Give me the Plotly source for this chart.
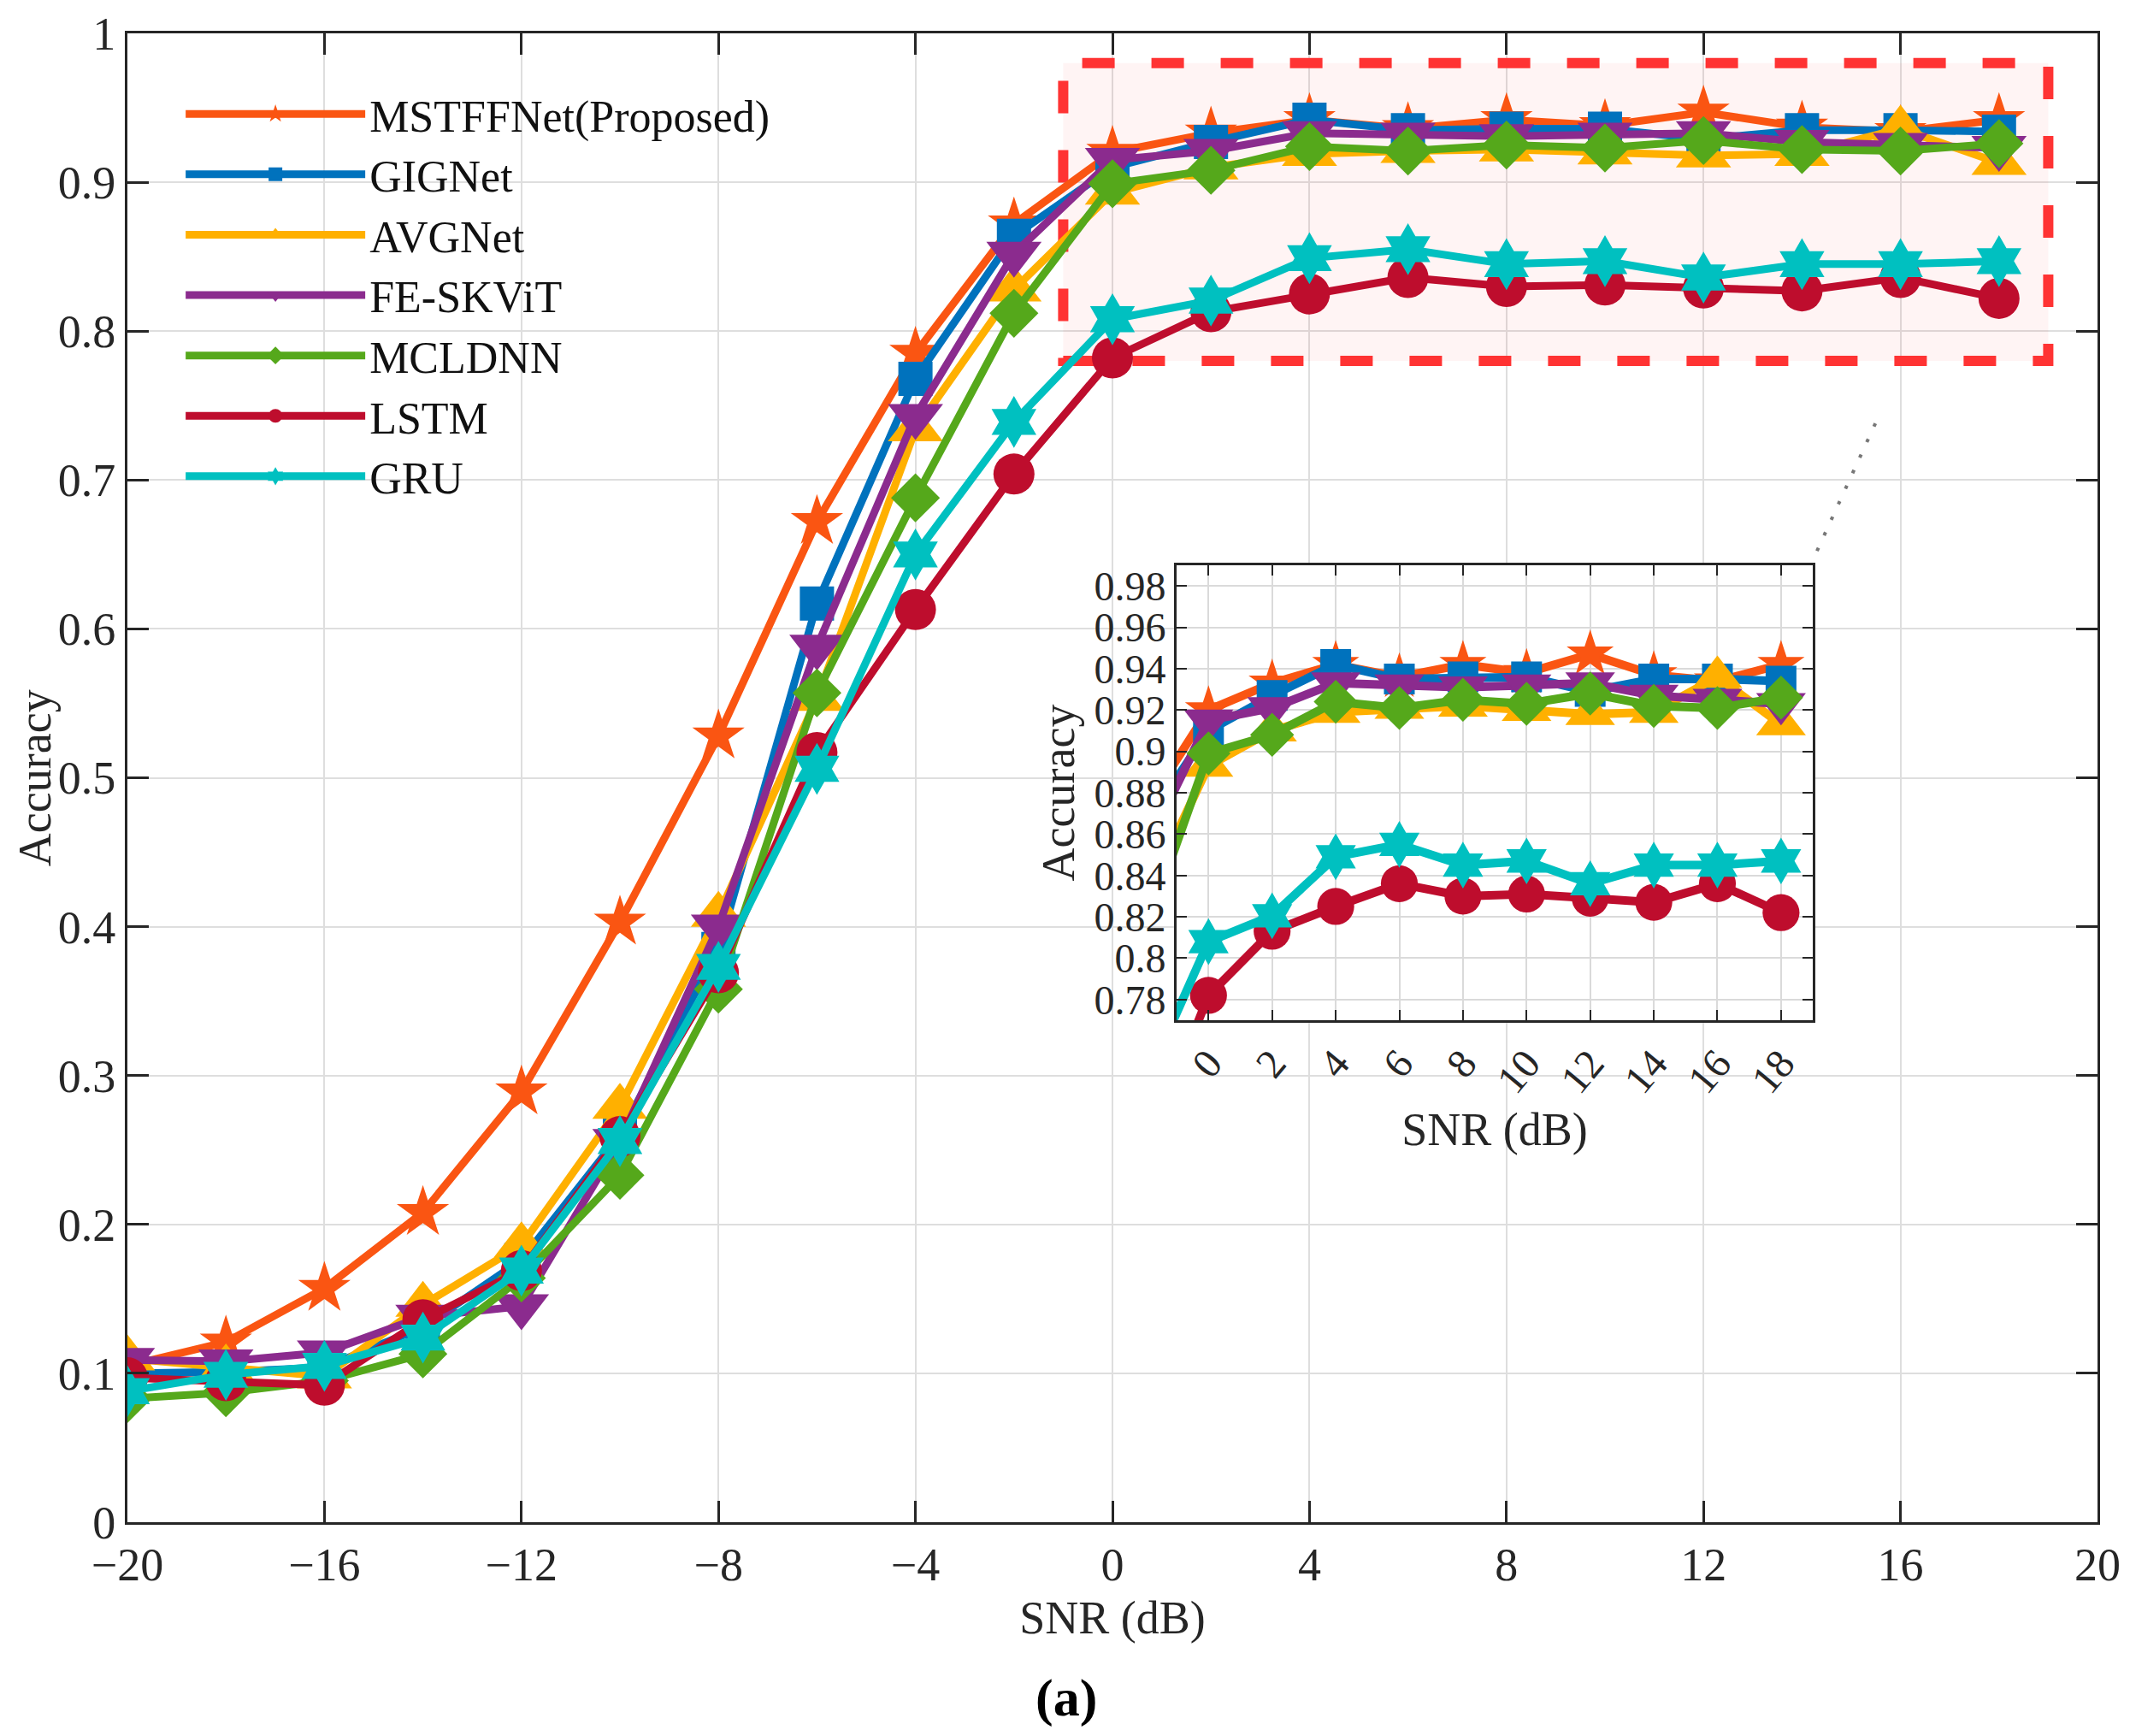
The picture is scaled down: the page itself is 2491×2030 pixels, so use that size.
import plotly.graph_objects as go

# SNR points (dB)
snr = [-20, -18, -16, -14, -12, -10, -8, -6, -4, -2, 0, 2, 4, 6, 8, 10, 12, 14, 16, 18]

# accuracy per model
mstffnet = [0.105, 0.121, 0.157, 0.208, 0.289, 0.403, 0.528, 0.672, 0.785, 0.872,
            0.920, 0.933, 0.942, 0.936, 0.942, 0.938, 0.947, 0.937, 0.934, 0.942]
gignet = [0.100, 0.101, 0.104, 0.131, 0.176, 0.260, 0.385, 0.617, 0.768, 0.864,
          0.910, 0.927, 0.942, 0.935, 0.936, 0.936, 0.929, 0.935, 0.935, 0.934]
avgnet = [0.110, 0.104, 0.098, 0.146, 0.186, 0.279, 0.408, 0.553, 0.734, 0.828,
          0.893, 0.910, 0.919, 0.921, 0.922, 0.920, 0.918, 0.919, 0.936, 0.913]
feskvit = [0.109, 0.108, 0.114, 0.138, 0.145, 0.256, 0.400, 0.588, 0.743, 0.852,
           0.915, 0.921, 0.933, 0.932, 0.931, 0.932, 0.933, 0.927, 0.925, 0.923]
mcldnn = [0.083, 0.087, 0.095, 0.113, 0.164, 0.233, 0.358, 0.557, 0.688, 0.812,
          0.899, 0.908, 0.924, 0.921, 0.925, 0.923, 0.928, 0.922, 0.921, 0.926]
lstm = [0.097, 0.095, 0.092, 0.136, 0.169, 0.259, 0.369, 0.517, 0.613, 0.704,
        0.782, 0.813, 0.825, 0.836, 0.830, 0.831, 0.829, 0.827, 0.836, 0.822]
gru = [0.088, 0.099, 0.105, 0.124, 0.169, 0.256, 0.373, 0.506, 0.650, 0.739,
       0.808, 0.8205, 0.849, 0.855, 0.845, 0.847, 0.836, 0.845, 0.845, 0.847]

names = ['MSTFFNet(Proposed)', 'GIGNet', 'AVGNet', 'FE-SKViT', 'MCLDNN', 'LSTM', 'GRU']
series = [mstffnet, gignet, avgnet, feskvit, mcldnn, lstm, gru]
colors = ['#FA5512', '#0072BD', '#FFB000', '#8B2B8E', '#55A81B', '#BE0D2D', '#00C0C0']
symbols = ['star', 'square', 'triangle-up', 'triangle-down', 'diamond', 'circle', 'hexagram']
sizes = [46, 40, 56, 56, 44, 48, 46]

# main axis ticks
x_ticks = [-20, -16, -12, -8, -4, 0, 4, 8, 12, 16, 20]
y_ticks = [0, 0.1, 0.2, 0.3, 0.4, 0.5, 0.6, 0.7, 0.8, 0.9, 1]
y_ticktext = ['0', '0.1', '0.2', '0.3', '0.4', '0.5', '0.6', '0.7', '0.8', '0.9', '1']

# zoomed window and inset ticks
zoom_x = [-1, 19]
zoom_y = [0.78, 0.98]
inset_y_range = [0.77, 0.99]
inset_x_ticks = [0, 2, 4, 6, 8, 10, 12, 14, 16, 18]
inset_y_ticks = [0.78, 0.80, 0.82, 0.84, 0.86, 0.88, 0.90, 0.92, 0.94, 0.96, 0.98]
inset_y_ticktext = ['0.78', '0.8', '0.82', '0.84', '0.86', '0.88', '0.9', '0.92', '0.94', '0.96', '0.98']

FONT = 'Liberation Serif'
INK = '#262626'

fig = go.Figure()

for name, vals, c, s, sz in zip(names, series, colors, symbols, sizes):
    fig.add_trace(go.Scatter(
        x=snr, y=vals, name=name, mode='lines+markers',
        line=dict(color=c, width=9),
        marker=dict(symbol=s, size=sz, color=c),
    ))

# same curves again, inside the inset
for name, vals, c, s, sz in zip(names, series, colors, symbols, sizes):
    fig.add_trace(go.Scatter(
        x=snr, y=vals, name=name, mode='lines+markers', showlegend=False,
        line=dict(color=c, width=10),
        marker=dict(symbol=s, size=sz * 0.9, color=c),
        xaxis='x2', yaxis='y2',
    ))

# highlighted zoom region
fig.add_shape(type='rect', xref='x', yref='y',
              x0=zoom_x[0], x1=zoom_x[1], y0=zoom_y[0], y1=zoom_y[1],
              fillcolor='rgba(250,60,60,0.06)', layer='between',
              line=dict(color='#FF3333', width=12, dash='38px,43px'))

# dotted connector to inset
fig.add_shape(type='line', xref='x', yref='y',
              x0=15.49, y0=0.738, x1=14.3, y1=0.652,
              line=dict(color='#777777', width=4, dash='4px,16px'))

axis_common = dict(
    showline=True, linecolor=INK, linewidth=3, mirror='ticks',
    ticks='inside', ticklen=25, tickwidth=3, tickcolor=INK,
    showgrid=True, gridcolor='#DEDEDE', gridwidth=2, zeroline=False,
    automargin=False,
    tickfont=dict(family=FONT, size=54, color=INK),
)
inset_common = dict(
    showline=True, linecolor=INK, linewidth=3, mirror='ticks',
    ticks='inside', ticklen=12, tickwidth=2, tickcolor=INK,
    showgrid=True, gridcolor='#DADADA', gridwidth=2, zeroline=False,
    automargin=False,
    tickfont=dict(family=FONT, size=48, color=INK),
)

# page body adds an 8px margin, so the figure is 8px smaller than the window
fig.update_layout(
    width=2483, height=2022,
    margin=dict(l=141, r=38, t=31, b=250),
    paper_bgcolor='white', plot_bgcolor='white',
    font=dict(family=FONT, color=INK),
    xaxis=dict(range=[-20, 20], tickvals=x_ticks,
               title=dict(text='SNR (dB)', font=dict(family=FONT, size=54), standoff=14),
               **axis_common),
    yaxis=dict(range=[0, 1], tickvals=y_ticks, ticktext=y_ticktext, **axis_common),
    xaxis2=dict(domain=[0.5326, 0.8555], anchor='y2', range=zoom_x,
                tickvals=inset_x_ticks, tickangle=-50,
                title=dict(text='SNR (dB)', font=dict(family=FONT, size=54)),
                **inset_common),
    yaxis2=dict(domain=[0.3372, 0.6427], anchor='x2', range=inset_y_range,
                tickvals=inset_y_ticks, ticktext=inset_y_ticktext,
                title=dict(text='Accuracy', font=dict(family=FONT, size=54), standoff=6),
                **inset_common),
    legend=dict(x=0.0274, y=0.969, xanchor='left', yanchor='top',
                bgcolor='rgba(0,0,0,0)', itemwidth=210,
                font=dict(family=FONT, size=52, color='#111111'),
                tracegroupgap=0),
    showlegend=True,
)

# main y title, placed further left than the margin would allow a title
fig.add_annotation(text='Accuracy', xref='paper', yref='paper',
                   x=-0.047, y=0.5, xanchor='center', yanchor='middle',
                   textangle=-90, showarrow=False,
                   font=dict(family=FONT, size=54, color=INK))

fig.add_annotation(text='<b>(a)</b>', xref='paper', yref='paper',
                   x=0.4766, y=-0.118, xanchor='center', yanchor='middle',
                   showarrow=False,
                   font=dict(family=FONT, size=62, color='black'))

fig.write_html('out.html')
